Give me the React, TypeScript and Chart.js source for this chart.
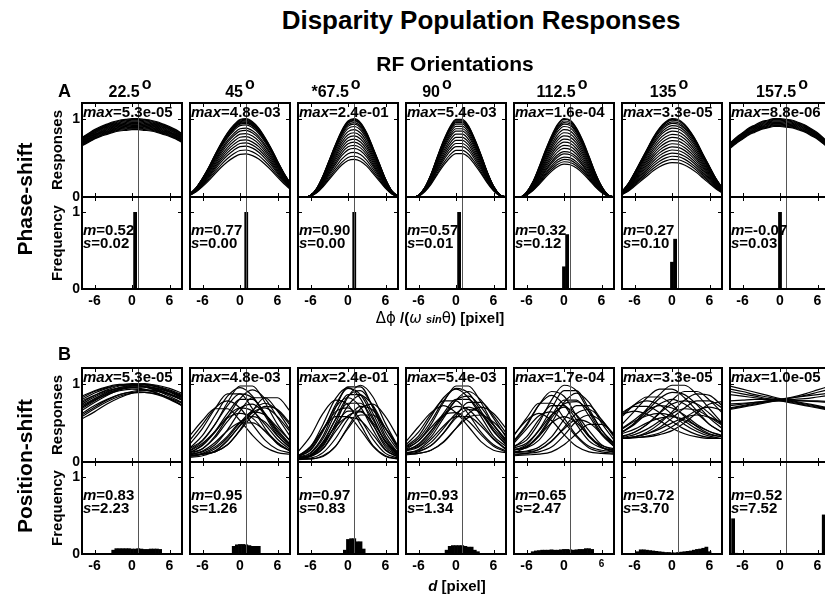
import React, { useEffect, useRef } from 'react';
import { Chart, registerables } from 'chart.js';

Chart.register(...registerables);

const FONT = '"Liberation Sans", Arial, Helvetica, sans-serif';

// ---------- data ----------
const ORIENTATIONS = ['22.5', '45', '*67.5', '90', '112.5', '135', '157.5'];
const PHASE_MAX = ['5.3e-05', '4.8e-03', '2.4e-01', '5.4e-03', '1.6e-04', '3.3e-05', '8.8e-06'];
const POS_MAX = ['5.3e-05', '4.8e-03', '2.4e-01', '5.4e-03', '1.7e-04', '3.3e-05', '1.0e-05'];
const PHASE_M = ['0.52', '0.77', '0.90', '0.57', '0.32', '0.27', '-0.07'];
const PHASE_S = ['0.02', '0.00', '0.00', '0.01', '0.12', '0.10', '0.03'];
const POS_M = ['0.83', '0.95', '0.97', '0.93', '0.65', '0.72', '0.52'];
const POS_S = ['2.23', '1.26', '0.83', '1.34', '2.47', '3.70', '7.52'];

const X_TICKS = [-6, 0, 6];
const Y_TICKS = [0, 1];
const TRUE_DISPARITY = 1;

const X_GRID = [-8, -7, -6, -5, -4, -3, -2, -1, 0, 1, 2, 3, 4, 5, 6, 7, 8];
const X9 = [-8, -6, -4, -2, 0, 2, 4, 6, 8];
const HIST_X = [-8, -7.5, -7, -6.5, -6, -5.5, -5, -4.5, -4, -3.5, -3, -2.5, -2, -1.5, -1, -0.5, 0, 0.5, 1, 1.5, 2, 2.5, 3, 3.5, 4, 4.5, 5, 5.5, 6, 6.5, 7, 7.5, 8];

// phase-shift tuning shapes (normalised), read on X_GRID
const A_SHAPE_1 = [0.76, 0.81, 0.86, 0.9, 0.93, 0.96, 0.98, 0.99, 1.0, 1.0, 0.99, 0.98, 0.96, 0.93, 0.9, 0.86, 0.81];
const A_SHAPE_2 = [0.04, 0.12, 0.24, 0.38, 0.54, 0.69, 0.82, 0.92, 0.99, 1.0, 0.96, 0.88, 0.76, 0.62, 0.46, 0.31, 0.18];
const A_SHAPE_3 = [0, 0, 0.02, 0.11, 0.27, 0.47, 0.67, 0.85, 0.97, 1.0, 0.95, 0.82, 0.63, 0.43, 0.23, 0.08, 0.01];
const A_SHAPE_4 = [0, 0, 0.02, 0.12, 0.29, 0.51, 0.72, 0.89, 0.99, 0.99, 0.91, 0.74, 0.54, 0.32, 0.14, 0.03, 0];
const A_SHAPE_5 = [0, 0, 0.06, 0.19, 0.38, 0.59, 0.78, 0.93, 1.0, 0.98, 0.88, 0.72, 0.52, 0.31, 0.14, 0.03, 0];
const A_SHAPE_6 = [0.07, 0.17, 0.31, 0.46, 0.61, 0.76, 0.88, 0.96, 1.0, 0.99, 0.93, 0.83, 0.7, 0.54, 0.39, 0.24, 0.12];
const A_SHAPE_7 = [0.69, 0.76, 0.82, 0.88, 0.92, 0.96, 0.98, 1.0, 1.0, 0.99, 0.98, 0.95, 0.92, 0.87, 0.82, 0.75, 0.67];
const A_SHAPES = [A_SHAPE_1, A_SHAPE_2, A_SHAPE_3, A_SHAPE_4, A_SHAPE_5, A_SHAPE_6, A_SHAPE_7];

// peak heights of the individual phase-shift cells
const A_PEAKS_1 = [1, 0.99, 0.98, 0.97, 0.96, 0.95, 0.94, 0.93, 0.92, 0.91, 0.9, 0.89, 0.88, 0.87, 0.86];
const A_PEAKS_2 = [1, 0.99, 0.98, 0.97, 0.96, 0.95, 0.94, 0.92, 0.88, 0.85, 0.81, 0.77, 0.73, 0.69, 0.65, 0.6, 0.55];
const A_PEAKS_3 = [1, 0.99, 0.98, 0.97, 0.95, 0.93, 0.9, 0.86, 0.82, 0.78, 0.74, 0.7, 0.66, 0.62, 0.57, 0.52, 0.48];
const A_PEAKS_4 = [1, 0.99, 0.98, 0.97, 0.96, 0.94, 0.91, 0.88, 0.85, 0.81, 0.77, 0.73, 0.69, 0.65, 0.6, 0.56];
const A_PEAKS_5 = [1, 0.99, 0.97, 0.95, 0.93, 0.9, 0.86, 0.82, 0.78, 0.74, 0.7, 0.66, 0.62, 0.58, 0.55, 0.51, 0.48, 0.45, 0.42];
const A_PEAKS_6 = [1, 0.99, 0.98, 0.96, 0.94, 0.91, 0.88, 0.84, 0.8, 0.76, 0.72, 0.68, 0.64, 0.6, 0.56, 0.52, 0.48, 0.44];
const A_PEAKS_7 = [1, 0.99, 0.98, 0.97, 0.96, 0.95, 0.94, 0.93, 0.92, 0.91, 0.9];
const A_PEAKS = [A_PEAKS_1, A_PEAKS_2, A_PEAKS_3, A_PEAKS_4, A_PEAKS_5, A_PEAKS_6, A_PEAKS_7];

// position-shift response curves, read on X9
const B_CURVES_1 = [
  [0.8, 0.88, 0.94, 0.98, 1.0, 0.99, 0.96, 0.9, 0.83],
  [0.76, 0.85, 0.92, 0.97, 0.99, 1.0, 0.97, 0.92, 0.86],
  [0.72, 0.81, 0.89, 0.95, 0.98, 0.99, 0.98, 0.94, 0.88],
  [0.84, 0.91, 0.96, 0.99, 0.99, 0.96, 0.91, 0.84, 0.76],
  [0.66, 0.76, 0.85, 0.92, 0.95, 0.96, 0.94, 0.9, 0.84],
  [0.6, 0.7, 0.79, 0.86, 0.9, 0.92, 0.91, 0.87, 0.81],
  [0.55, 0.64, 0.74, 0.82, 0.88, 0.91, 0.9, 0.86, 0.8],
  [0.78, 0.85, 0.91, 0.94, 0.95, 0.93, 0.88, 0.81, 0.73],
  [0.7, 0.79, 0.86, 0.91, 0.93, 0.92, 0.88, 0.81, 0.72],
  [0.62, 0.72, 0.8, 0.86, 0.89, 0.89, 0.86, 0.8, 0.72],
  [0.7, 0.8, 0.88, 0.93, 0.96, 0.96, 0.93, 0.87, 0.79],
  [0.58, 0.68, 0.77, 0.84, 0.88, 0.89, 0.87, 0.82, 0.75],
  [0.82, 0.9, 0.95, 0.98, 0.98, 0.96, 0.92, 0.86, 0.79],
  [0.68, 0.78, 0.87, 0.93, 0.97, 0.98, 0.96, 0.91, 0.85],
  [0.74, 0.83, 0.9, 0.95, 0.97, 0.97, 0.94, 0.89, 0.82],
];
const B_CURVES_2 = [
  [0.15, 0.27, 0.48, 0.76, 0.97, 0.97, 0.76, 0.48, 0.27],
  [0.18, 0.34, 0.59, 0.84, 0.95, 0.84, 0.59, 0.34, 0.18],
  [0.12, 0.17, 0.33, 0.57, 0.81, 0.92, 0.81, 0.57, 0.33],
  [0.1, 0.13, 0.22, 0.41, 0.65, 0.82, 0.82, 0.65, 0.41],
  [0.23, 0.43, 0.68, 0.87, 0.87, 0.68, 0.43, 0.23, 0.14],
  [0.1, 0.17, 0.31, 0.52, 0.69, 0.74, 0.61, 0.41, 0.23],
  [0.12, 0.21, 0.38, 0.58, 0.69, 0.65, 0.48, 0.29, 0.16],
  [0.07, 0.1, 0.17, 0.31, 0.5, 0.64, 0.6, 0.44, 0.27],
  [0.14, 0.24, 0.39, 0.56, 0.62, 0.56, 0.39, 0.24, 0.14],
  [0.08, 0.1, 0.14, 0.27, 0.47, 0.66, 0.75, 0.66, 0.47],
  [0.12, 0.22, 0.39, 0.62, 0.8, 0.8, 0.62, 0.39, 0.22],
  [0.06, 0.08, 0.14, 0.28, 0.46, 0.63, 0.69, 0.58, 0.39],
  [0.08, 0.1, 0.13, 0.22, 0.41, 0.65, 0.82, 0.82, 0.65],
  [0.28, 0.48, 0.69, 0.78, 0.69, 0.48, 0.28, 0.16, 0.12],
  [0.17, 0.28, 0.48, 0.72, 0.87, 0.82, 0.61, 0.37, 0.21],
  [0.08, 0.1, 0.13, 0.22, 0.4, 0.59, 0.71, 0.67, 0.5],
  [0.34, 0.53, 0.68, 0.68, 0.53, 0.34, 0.19, 0.12, 0.1],
  [0.08, 0.11, 0.19, 0.33, 0.51, 0.58, 0.51, 0.33, 0.19],
  [0.09, 0.14, 0.25, 0.4, 0.5, 0.5, 0.4, 0.25, 0.14],
];
const B_CURVES_3 = [
  [0.06, 0.12, 0.33, 0.69, 0.96, 0.96, 0.69, 0.33, 0.12],
  [0.07, 0.15, 0.39, 0.73, 0.94, 0.86, 0.57, 0.25, 0.09],
  [0.05, 0.09, 0.24, 0.55, 0.84, 0.91, 0.71, 0.38, 0.15],
  [0.04, 0.07, 0.17, 0.43, 0.72, 0.85, 0.72, 0.43, 0.17],
  [0.07, 0.16, 0.41, 0.7, 0.82, 0.7, 0.41, 0.16, 0.07],
  [0.05, 0.09, 0.26, 0.54, 0.75, 0.75, 0.54, 0.26, 0.09],
  [0.04, 0.05, 0.12, 0.3, 0.55, 0.71, 0.66, 0.43, 0.19],
  [0.07, 0.18, 0.42, 0.64, 0.69, 0.54, 0.29, 0.11, 0.05],
  [0.04, 0.07, 0.17, 0.39, 0.59, 0.64, 0.5, 0.27, 0.1],
  [0.03, 0.04, 0.07, 0.2, 0.43, 0.6, 0.6, 0.43, 0.2],
  [0.04, 0.09, 0.24, 0.45, 0.57, 0.53, 0.35, 0.15, 0.06],
  [0.07, 0.2, 0.41, 0.58, 0.58, 0.41, 0.2, 0.07, 0.04],
  [0.05, 0.11, 0.3, 0.62, 0.86, 0.86, 0.62, 0.3, 0.11],
  [0.08, 0.19, 0.48, 0.81, 0.95, 0.81, 0.48, 0.19, 0.08],
  [0.05, 0.08, 0.2, 0.49, 0.83, 0.98, 0.83, 0.49, 0.2],
  [0.04, 0.04, 0.08, 0.2, 0.45, 0.68, 0.74, 0.58, 0.31],
  [0.13, 0.33, 0.62, 0.79, 0.73, 0.48, 0.21, 0.08, 0.04],
  [0.04, 0.08, 0.22, 0.47, 0.65, 0.65, 0.47, 0.22, 0.08],
];
const B_CURVES_4 = [
  [0.18, 0.27, 0.48, 0.76, 0.97, 0.97, 0.76, 0.48, 0.27],
  [0.2, 0.33, 0.58, 0.82, 0.93, 0.82, 0.58, 0.33, 0.2],
  [0.14, 0.19, 0.32, 0.56, 0.79, 0.9, 0.79, 0.56, 0.32],
  [0.16, 0.2, 0.36, 0.59, 0.79, 0.84, 0.7, 0.47, 0.27],
  [0.22, 0.38, 0.61, 0.78, 0.78, 0.61, 0.38, 0.22, 0.14],
  [0.12, 0.14, 0.21, 0.37, 0.59, 0.76, 0.76, 0.59, 0.37],
  [0.14, 0.23, 0.4, 0.59, 0.71, 0.67, 0.5, 0.3, 0.17],
  [0.1, 0.13, 0.21, 0.37, 0.56, 0.67, 0.63, 0.47, 0.29],
  [0.16, 0.27, 0.44, 0.6, 0.63, 0.52, 0.35, 0.2, 0.13],
  [0.1, 0.11, 0.15, 0.25, 0.43, 0.62, 0.7, 0.62, 0.43],
  [0.11, 0.16, 0.29, 0.46, 0.58, 0.58, 0.46, 0.29, 0.16],
  [0.19, 0.3, 0.52, 0.78, 0.94, 0.88, 0.65, 0.4, 0.23],
  [0.26, 0.45, 0.63, 0.72, 0.63, 0.45, 0.26, 0.15, 0.12],
  [0.09, 0.11, 0.15, 0.26, 0.43, 0.57, 0.6, 0.51, 0.34],
  [0.15, 0.22, 0.39, 0.62, 0.8, 0.8, 0.62, 0.39, 0.22],
  [0.11, 0.15, 0.25, 0.43, 0.62, 0.7, 0.62, 0.43, 0.25],
];
const B_CURVES_5 = [
  [0.2, 0.28, 0.5, 0.79, 0.98, 0.91, 0.64, 0.37, 0.23],
  [0.18, 0.24, 0.41, 0.68, 0.91, 0.91, 0.68, 0.41, 0.24],
  [0.27, 0.48, 0.73, 0.85, 0.73, 0.48, 0.27, 0.18, 0.15],
  [0.34, 0.56, 0.75, 0.75, 0.56, 0.34, 0.2, 0.15, 0.13],
  [0.16, 0.18, 0.28, 0.5, 0.76, 0.88, 0.76, 0.5, 0.28],
  [0.12, 0.13, 0.16, 0.26, 0.44, 0.62, 0.67, 0.54, 0.34],
  [0.19, 0.32, 0.54, 0.72, 0.72, 0.54, 0.32, 0.19, 0.14],
  [0.15, 0.22, 0.4, 0.6, 0.7, 0.6, 0.4, 0.22, 0.15],
  [0.1, 0.11, 0.13, 0.19, 0.34, 0.52, 0.6, 0.52, 0.34],
  [0.35, 0.53, 0.62, 0.53, 0.35, 0.2, 0.13, 0.11, 0.1],
  [0.09, 0.11, 0.16, 0.27, 0.42, 0.54, 0.5, 0.36, 0.2],
  [0.15, 0.19, 0.33, 0.56, 0.74, 0.77, 0.65, 0.41, 0.22],
  [0.26, 0.46, 0.73, 0.9, 0.84, 0.59, 0.34, 0.21, 0.17],
  [0.16, 0.2, 0.35, 0.59, 0.79, 0.79, 0.59, 0.35, 0.2],
  [0.13, 0.14, 0.19, 0.32, 0.54, 0.72, 0.72, 0.54, 0.32],
  [0.24, 0.42, 0.59, 0.64, 0.51, 0.32, 0.18, 0.13, 0.11],
  [0.12, 0.19, 0.33, 0.5, 0.58, 0.5, 0.33, 0.19, 0.12],
  [0.08, 0.09, 0.1, 0.13, 0.22, 0.36, 0.48, 0.48, 0.36],
];
const B_CURVES_6 = [
  [0.38, 0.5, 0.68, 0.86, 0.98, 0.98, 0.86, 0.68, 0.5],
  [0.48, 0.65, 0.82, 0.93, 0.93, 0.82, 0.65, 0.48, 0.38],
  [0.32, 0.38, 0.48, 0.63, 0.79, 0.9, 0.9, 0.79, 0.63],
  [0.58, 0.73, 0.83, 0.83, 0.73, 0.58, 0.45, 0.36, 0.32],
  [0.3, 0.32, 0.36, 0.44, 0.56, 0.69, 0.78, 0.78, 0.69],
  [0.63, 0.71, 0.71, 0.63, 0.52, 0.42, 0.35, 0.31, 0.3],
  [0.38, 0.48, 0.62, 0.74, 0.8, 0.74, 0.62, 0.48, 0.38],
  [0.33, 0.38, 0.48, 0.62, 0.74, 0.78, 0.74, 0.62, 0.48],
  [0.3, 0.31, 0.33, 0.37, 0.45, 0.56, 0.66, 0.7, 0.66],
  [0.61, 0.65, 0.61, 0.53, 0.43, 0.36, 0.32, 0.3, 0.3],
  [0.3, 0.32, 0.36, 0.42, 0.5, 0.57, 0.6, 0.57, 0.5],
  [0.42, 0.52, 0.59, 0.62, 0.59, 0.52, 0.42, 0.35, 0.32],
  [0.3, 0.31, 0.32, 0.35, 0.4, 0.5, 0.63, 0.74, 0.77],
  [0.38, 0.49, 0.65, 0.81, 0.89, 0.86, 0.73, 0.56, 0.43],
  [0.61, 0.73, 0.78, 0.73, 0.61, 0.48, 0.39, 0.33, 0.3],
  [0.31, 0.35, 0.42, 0.52, 0.62, 0.68, 0.66, 0.57, 0.47],
  [0.43, 0.54, 0.66, 0.72, 0.69, 0.6, 0.48, 0.39, 0.33],
  [0.3, 0.32, 0.38, 0.49, 0.64, 0.79, 0.87, 0.85, 0.72],
  [0.36, 0.42, 0.5, 0.56, 0.58, 0.54, 0.46, 0.39, 0.34],
];
const B_CURVES_7 = [
  [0.97, 0.93, 0.89, 0.85, 0.81, 0.78, 0.75, 0.72, 0.69],
  [0.93, 0.9, 0.86, 0.83, 0.8, 0.77, 0.74, 0.71, 0.68],
  [0.9, 0.87, 0.84, 0.81, 0.79, 0.76, 0.73, 0.7, 0.67],
  [0.86, 0.84, 0.82, 0.8, 0.78, 0.75, 0.72, 0.69, 0.66],
  [0.68, 0.71, 0.74, 0.77, 0.8, 0.83, 0.87, 0.92, 0.97],
  [0.67, 0.7, 0.73, 0.76, 0.79, 0.82, 0.85, 0.89, 0.93],
  [0.69, 0.72, 0.75, 0.78, 0.8, 0.82, 0.84, 0.86, 0.88],
  [0.72, 0.74, 0.76, 0.78, 0.79, 0.8, 0.81, 0.83, 0.85],
  [0.74, 0.75, 0.76, 0.77, 0.78, 0.78, 0.78, 0.78, 0.77],
  [0.78, 0.79, 0.8, 0.8, 0.8, 0.79, 0.78, 0.77, 0.76],
];
const B_CURVES = [B_CURVES_1, B_CURVES_2, B_CURVES_3, B_CURVES_4, B_CURVES_5, B_CURVES_6, B_CURVES_7];

// histograms of preferred disparity: bin centres and frequencies
const A_BINS = [[0.5], [1], [1], [0.5], [0, 0.5], [0, 0.5], [0]];
const A_FREQ = [[1.0], [1.0], [1.0], [1.0], [0.29, 0.71], [0.35, 0.65], [1.0]];
const B_BINS_1 = [-3, -2.5, -2, -1.5, -1, -0.5, 0, 0.5, 1, 1.5, 2, 2.5, 3, 3.5, 4, 4.5];
const B_FREQ_1 = [0.05, 0.07, 0.07, 0.07, 0.07, 0.07, 0.065, 0.065, 0.07, 0.065, 0.06, 0.06, 0.065, 0.065, 0.065, 0.06];
const B_BINS_2 = [-1, -0.5, 0, 0.5, 1, 1.5, 2, 2.5, 3];
const B_FREQ_2 = [0.1, 0.12, 0.125, 0.125, 0.12, 0.11, 0.1, 0.1, 0.1];
const B_BINS_3 = [-0.5, 0, 0.5, 1, 1.5, 2, 2.5];
const B_FREQ_3 = [0.05, 0.19, 0.2, 0.2, 0.16, 0.16, 0.065];
const B_BINS_4 = [-1.5, -1, -0.5, 0, 0.5, 1, 1.5, 2, 2.5, 3, 3.5];
const B_FREQ_4 = [0.05, 0.1, 0.11, 0.11, 0.11, 0.11, 0.1, 0.09, 0.09, 0.05, 0.03];
const B_BINS_5 = [-5, -4.5, -4, -3.5, -3, -2.5, -2, -1.5, -1, -0.5, 0, 0.5, 1, 1.5, 2, 2.5, 3, 3.5, 4, 4.5];
const B_FREQ_5 = [0.03, 0.04, 0.045, 0.05, 0.05, 0.05, 0.055, 0.05, 0.05, 0.055, 0.06, 0.06, 0.055, 0.05, 0.055, 0.06, 0.06, 0.07, 0.07, 0.06];
const B_BINS_6 = [-5.5, -5, -4.5, -4, -3.5, -3, -2.5, -2, -1.5, -1, -0.5, 0, 0.5, 1, 1.5, 2, 2.5, 3, 3.5, 4, 4.5, 5, 5.5, 6];
const B_FREQ_6 = [0.03, 0.055, 0.055, 0.05, 0.045, 0.04, 0.035, 0.03, 0.025, 0.02, 0.02, 0.015, 0.015, 0.02, 0.025, 0.03, 0.035, 0.04, 0.05, 0.06, 0.065, 0.075, 0.09, 0.03];
const B_BINS_7 = [-7.5, -7, 7];
const B_FREQ_7 = [0.46, 0.01, 0.51];
const B_BINS = [B_BINS_1, B_BINS_2, B_BINS_3, B_BINS_4, B_BINS_5, B_BINS_6, B_BINS_7];
const B_FREQ = [B_FREQ_1, B_FREQ_2, B_FREQ_3, B_FREQ_4, B_FREQ_5, B_FREQ_6, B_FREQ_7];

// ---------- layout ----------
const PANEL_LEFTS = [82, 190, 298, 406, 514, 622, 730];
const PANEL_W = 100;
const HEADER_X = [130, 240, 336, 437, 562, 669, 782];
const ROW_A = { respTop: 103, freqTop: 197, freqBottom: 289 };
const ROW_B = { respTop: 368, freqTop: 462, freqBottom: 554 };
const PAD_L = 26, PAD_R = 12, PAD_T = 12, PAD_B = 26;

const framePlugin = {
  id: 'frame',
  afterDatasetsDraw(chart: any) {
    const { ctx, chartArea: a, scales } = chart;
    const x = scales.x, y = scales.y;
    ctx.save();
    const vx = Math.round(x.getPixelForValue(TRUE_DISPARITY)) + 0.5;
    ctx.strokeStyle = '#555';
    ctx.lineWidth = 1;
    ctx.beginPath();
    ctx.moveTo(vx, a.top);
    ctx.lineTo(vx, a.bottom);
    ctx.stroke();
    ctx.strokeStyle = '#000';
    ctx.beginPath();
    X_TICKS.forEach((v) => {
      const px = Math.round(x.getPixelForValue(v)) + 0.5;
      ctx.moveTo(px, a.top);
      ctx.lineTo(px, a.top + 4);
      ctx.moveTo(px, a.bottom);
      ctx.lineTo(px, a.bottom - 4);
    });
    const py = Math.round(y.getPixelForValue(1)) + 0.5;
    ctx.moveTo(a.left, py);
    ctx.lineTo(a.left + 4, py);
    ctx.moveTo(a.right, py);
    ctx.lineTo(a.right - 4, py);
    ctx.stroke();
    ctx.lineWidth = 2;
    ctx.strokeRect(a.left, a.top, a.right - a.left, a.bottom - a.top);
    ctx.restore();
  },
};

type PanelProps = {
  left: number;
  top: number;
  height: number;
  type: 'line' | 'bar';
  datasets: any[];
  xLabels: boolean;
  yLabels: boolean;
  smallSix?: boolean;
};

function Panel({ left, top, height, type, datasets, xLabels, yLabels, smallSix }: PanelProps) {
  const ref = useRef<HTMLCanvasElement>(null);
  const W = PAD_L + PANEL_W + PAD_R;
  const H = PAD_T + height + PAD_B;
  useEffect(() => {
    const chart = new Chart(ref.current as HTMLCanvasElement, {
      type,
      data: { datasets },
      options: {
        animation: false,
        responsive: false,
        maintainAspectRatio: false,
        events: [],
        layout: { padding: { left: 0, top: PAD_T, right: PAD_R, bottom: 0 } },
        plugins: { legend: { display: false }, tooltip: { enabled: false } },
        scales: {
          x: {
            type: 'linear',
            min: -8,
            max: 8,
            offset: false,
            grid: { display: false, drawTicks: false },
            border: { display: false },
            afterBuildTicks: (s: any) => {
              s.ticks = X_TICKS.map((v) => ({ value: v }));
            },
            afterFit: (s: any) => {
              s.height = PAD_B;
            },
            ticks: {
              display: xLabels,
              padding: 4,
              color: '#000',
              maxRotation: 0,
              font: (c: any) => ({
                family: FONT,
                weight: 'bold',
                size: smallSix && c.tick && c.tick.value === 6 ? 10 : 14,
              }),
              callback: (v: any) => String(v),
            },
          },
          y: {
            type: 'linear',
            min: 0,
            max: 1.2,
            grid: { display: false, drawTicks: false },
            border: { display: false },
            afterBuildTicks: (s: any) => {
              s.ticks = Y_TICKS.map((v) => ({ value: v }));
            },
            afterFit: (s: any) => {
              s.width = PAD_L;
            },
            ticks: {
              display: yLabels,
              padding: 2,
              color: '#000',
              font: { family: FONT, weight: 'bold', size: 14 },
              callback: (v: any) => String(v),
            },
          },
        },
      } as any,
      plugins: [framePlugin],
    });
    return () => chart.destroy();
  }, []);
  return (
    <canvas
      ref={ref}
      width={W}
      height={H}
      style={{ position: 'absolute', left: left - PAD_L, top: top - PAD_T, width: W, height: H }}
    />
  );
}

const lineStyle = {
  borderColor: '#000',
  borderWidth: 1.2,
  pointRadius: 0,
  fill: false,
  cubicInterpolationMode: 'monotone',
};

function histData(bins: number[], freq: number[]) {
  return [
    {
      data: HIST_X.map((x) => {
        const k = bins.indexOf(x);
        return { x, y: k >= 0 ? freq[k] : 0 };
      }),
      backgroundColor: '#000',
      borderWidth: 0,
      barPercentage: 1,
      categoryPercentage: 1,
    },
  ];
}

const abs = (l: number, t: number, extra: any = {}): any => ({
  position: 'absolute',
  left: l,
  top: t,
  whiteSpace: 'nowrap',
  lineHeight: 1,
  fontFamily: FONT,
  fontWeight: 'bold',
  color: '#000',
  ...extra,
});

function StatText({ left, top, m, s }: { left: number; top: number; m: string; s: string }) {
  return (
    <>
      <div style={abs(left + 1, top + 31.5, { fontSize: 15, transform: 'translateY(-50%)' })}>
        <i>m</i>={m}
      </div>
      <div style={abs(left + 1, top + 44.5, { fontSize: 15, transform: 'translateY(-50%)' })}>
        <i>s</i>={s}
      </div>
    </>
  );
}

export default function App() {
  const items: any[] = [];
  PANEL_LEFTS.forEach((L, i) => {
    items.push(
      <Panel
        key={'ar' + i}
        left={L}
        top={ROW_A.respTop}
        height={ROW_A.freqTop - ROW_A.respTop}
        type="line"
        xLabels={false}
        yLabels={i === 0}
        datasets={A_PEAKS[i].map((p) => ({
          ...lineStyle,
          data: X_GRID.map((x, k) => ({ x, y: A_SHAPES[i][k] * p })),
        }))}
      />
    );
    items.push(
      <Panel
        key={'af' + i}
        left={L}
        top={ROW_A.freqTop}
        height={ROW_A.freqBottom - ROW_A.freqTop}
        type="bar"
        xLabels={true}
        yLabels={i === 0}
        datasets={histData(A_BINS[i], A_FREQ[i])}
      />
    );
    items.push(
      <Panel
        key={'br' + i}
        left={L}
        top={ROW_B.respTop}
        height={ROW_B.freqTop - ROW_B.respTop}
        type="line"
        xLabels={false}
        yLabels={i === 0}
        datasets={B_CURVES[i].map((c) => ({
          ...lineStyle,
          data: X9.map((x, k) => ({ x, y: c[k] })),
        }))}
      />
    );
    items.push(
      <Panel
        key={'bf' + i}
        left={L}
        top={ROW_B.freqTop}
        height={ROW_B.freqBottom - ROW_B.freqTop}
        type="bar"
        xLabels={true}
        yLabels={i === 0}
        smallSix={i === 4}
        datasets={histData(B_BINS[i], B_FREQ[i])}
      />
    );
  });

  const texts: any[] = [];
  PANEL_LEFTS.forEach((L, i) => {
    texts.push(
      <div key={'h' + i} style={abs(HEADER_X[i], 92, { fontSize: 16, transform: 'translate(-50%,-50%)' })}>
        {ORIENTATIONS[i]}
        <span style={{ position: 'relative', top: -8, marginLeft: 2 }}>o</span>
      </div>
    );
    texts.push(
      <div key={'ma' + i} style={abs(L + 1, ROW_A.respTop + 8, { fontSize: 15, transform: 'translateY(-50%)' })}>
        <i>max</i>={PHASE_MAX[i]}
      </div>
    );
    texts.push(
      <div key={'mb' + i} style={abs(L + 1, ROW_B.respTop + 8, { fontSize: 15, transform: 'translateY(-50%)' })}>
        <i>max</i>={POS_MAX[i]}
      </div>
    );
    texts.push(<StatText key={'sa' + i} left={L} top={ROW_A.freqTop} m={PHASE_M[i]} s={PHASE_S[i]} />);
    texts.push(<StatText key={'sb' + i} left={L} top={ROW_B.freqTop} m={POS_M[i]} s={POS_S[i]} />);
  });

  const rot = (cx: number, cy: number, size: number) =>
    abs(cx, cy, { fontSize: size, transform: 'translate(-50%,-50%) rotate(-90deg)' });

  return (
    <div
      style={{
        position: 'fixed',
        left: 0,
        top: 0,
        width: 825,
        height: 597,
        overflow: 'hidden',
        background: '#fff',
      }}
    >
      {items}
      {texts}
      <div style={abs(481, 20, { fontSize: 26, transform: 'translate(-50%,-50%)' })}>
        Disparity Population Responses
      </div>
      <div style={abs(455, 63, { fontSize: 21, transform: 'translate(-50%,-50%)' })}>RF Orientations</div>
      <div style={abs(58, 91, { fontSize: 18, transform: 'translateY(-50%)' })}>A</div>
      <div style={abs(58, 354, { fontSize: 18, transform: 'translateY(-50%)' })}>B</div>
      <div style={rot(23.5, 199, 21)}>Phase-shift</div>
      <div style={rot(23.5, 466, 21)}>Position-shift</div>
      <div style={rot(56, 150, 15)}>Responses</div>
      <div style={rot(56, 243, 15)}>Frequency</div>
      <div style={rot(56, 415, 15)}>Responses</div>
      <div style={rot(56, 508, 15)}>Frequency</div>
      <div style={abs(440, 318, { fontSize: 15, transform: 'translate(-50%,-50%)' })}>
        <span style={{ fontFamily: '"DejaVu Sans", sans-serif', fontWeight: 'normal' }}>Δϕ</span> /(
        <span style={{ fontFamily: '"DejaVu Sans", sans-serif', fontWeight: 'normal', fontStyle: 'italic' }}>ω</span>{' '}
        <i style={{ fontSize: 11 }}>sin</i>
        <span style={{ fontFamily: '"DejaVu Sans", sans-serif', fontWeight: 'normal' }}>θ</span>) [pixel]
      </div>
      <div style={abs(457, 585, { fontSize: 15, transform: 'translate(-50%,-50%)' })}>
        <i>d</i> [pixel]
      </div>
    </div>
  );
}
